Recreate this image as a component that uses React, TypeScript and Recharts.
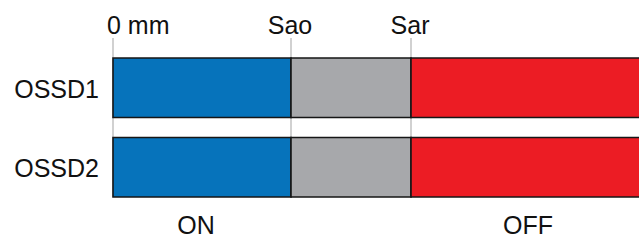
import React from 'react';
import { Bar, BarChart, CartesianGrid, ReferenceLine, XAxis, YAxis } from 'recharts';

// distances in arbitrary units (1 unit ~ 1px in the drawing)
const channels = ['OSSD1', 'OSSD2'];
const onSpan = [178, 178];
const transitionSpan = [120, 120];
const offSpan = [262, 262];

const topTicks = [0, 178, 298];
const topLabels = ['0 mm', 'Sao', 'Sar'];
const stateAt = [83, 415];
const stateLabels = ['ON', 'OFF'];

const data = channels.map((name, i) => ({
    name,
    on: onSpan[i],
    transition: transitionSpan[i],
    off: offSpan[i],
}));

const FONT = '"Liberation Sans", Arial, sans-serif';

const TopTick = ({ x, payload, index }: any) => {
    const first = index === 0;
    return (
        <text
            x={first ? x - 6 : x - 1}
            y={34}
            textAnchor={first ? 'start' : 'middle'}
            fontSize={25}
            fontFamily={FONT}
            fill="#111"
        >
            {topLabels[topTicks.indexOf(payload.value)]}
        </text>
    );
};

const SideTick = ({ x, y, payload }: any) => (
    <text x={x} y={y} dy={10} textAnchor="end" fontSize={25} fontFamily={FONT} fill="#111">
        {payload.value}
    </text>
);

// grid lines start above the first bar and stop at the bottom of the last one
const GridLine = (p: any) => (
    <line
        key={p.key}
        x1={p.x1}
        x2={p.x2}
        y1={p.y1 - 10}
        y2={p.y2 - 10}
        stroke="#a3a3a3"
        strokeWidth={1}
    />
);

export default function App() {
    return (
        <div style={{ position: 'absolute', left: 0, top: 0, width: 639, height: 240, overflow: 'hidden', background: '#fff' }}>
            <BarChart
                width={673}
                height={240}
                data={data}
                layout="vertical"
                margin={{ top: 0, right: 0, bottom: 33, left: 0 }}
                barSize={59.5}
            >
                <CartesianGrid horizontal={false} vertical={GridLine} />
                <XAxis
                    type="number"
                    orientation="top"
                    domain={[0, 560]}
                    ticks={topTicks}
                    height={48}
                    axisLine={false}
                    tickLine={false}
                    tick={<TopTick />}
                    interval={0}
                />
                <YAxis
                    type="category"
                    dataKey="name"
                    width={113}
                    axisLine={false}
                    tickLine={false}
                    tickSize={0}
                    tickMargin={14}
                    tick={<SideTick />}
                />
                <Bar dataKey="on" stackId="a" fill="#0673bb" stroke="#161616" strokeWidth={1.6} isAnimationActive={false} />
                <Bar dataKey="transition" stackId="a" fill="#a7a8ab" stroke="#161616" strokeWidth={1.6} isAnimationActive={false} />
                <Bar dataKey="off" stackId="a" fill="#ec1c24" stroke="#161616" strokeWidth={1.6} isAnimationActive={false} />
                {stateAt.map((v, i) => (
                    <ReferenceLine
                        key={stateLabels[i]}
                        x={v}
                        stroke="none"
                        label={{
                            value: stateLabels[i],
                            position: 'bottom',
                            offset: 9.5,
                            fontSize: 25,
                            fontFamily: FONT,
                            fill: '#111',
                        }}
                    />
                ))}
            </BarChart>
        </div>
    );
}
